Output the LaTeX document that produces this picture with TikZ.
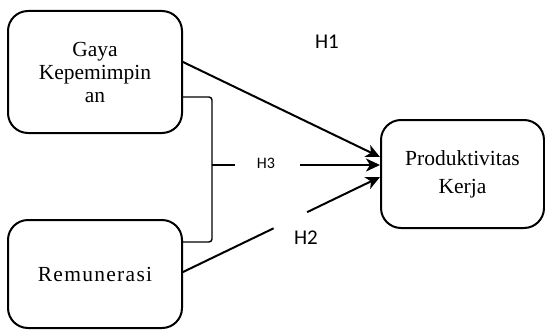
\documentclass[tikz,border=0pt]{standalone}
\usepackage{fontspec}
\setmainfont{Liberation Serif}
\newfontfamily\hfont{Carlito}
\newfontfamily\remfont[LetterSpace=6.0]{Liberation Serif}
\usetikzlibrary{arrows.meta}
\begin{document}
\begin{tikzpicture}[x=1pt,y=-1pt,
  box/.style={draw, line width=2pt, rounded corners=20pt, align=center, inner sep=0pt,
              font=\fontsize{21.5}{23}\selectfont},
  conn/.style={line width=2pt},
  arr/.style={conn, -{Stealth[length=14pt,width=13pt,inset=4pt]}},
  brk/.style={line width=1.4pt, rounded corners=3pt},
  hlab/.style={font=\hfont\fontsize{21}{24}\selectfont, inner sep=0pt},
  hsmall/.style={font=\hfont\fontsize{16}{18}\selectfont, inner sep=0pt}]
\useasboundingbox (0,0) rectangle (545,329);
\node[box, minimum width=174pt, minimum height=122pt] (g) at (95,72) {Gaya\\Kepemimpin\\an};
\node[box, minimum width=174pt, minimum height=108pt, font=\remfont\fontsize{21.5}{23}\selectfont] (r) at (95,274) {Remunerasi};
\node[box, minimum width=163pt, minimum height=108pt, font=\fontsize{21.5}{28}\selectfont] (p) at (462.5,174) {Produktivitas\\Kerja};
% labels
\node[hlab] (h1) at (327,42) {H1};
\node[hlab] (h2) at (306,238) {H2};
\node[hsmall] (h3) at (266,163) {H3};
% H1
\draw[arr] ([yshift=10pt]g.east) -- ([yshift=17pt]p.west);
% H3 bracket
\coordinate (hb) at (212,165);
\coordinate (ht) at (235,165);
\coordinate (hs) at (300,165);
\draw[brk] ([yshift=-25pt]g.east) -| (hb) |- ([yshift=32pt]r.east);
\draw[brk] (hb) -- (ht);
\draw[arr] (hs) -- ([yshift=9pt]p.west);
% H2 with gap
\path ([yshift=2pt]r.east) -- coordinate[pos=0.46] (ga) coordinate[pos=0.63] (gb) ([yshift=-3pt]p.west);
\draw[conn] ([yshift=2pt]r.east) -- (ga);
\draw[arr] (gb) -- ([yshift=-3pt]p.west);
\end{tikzpicture}
\end{document}
